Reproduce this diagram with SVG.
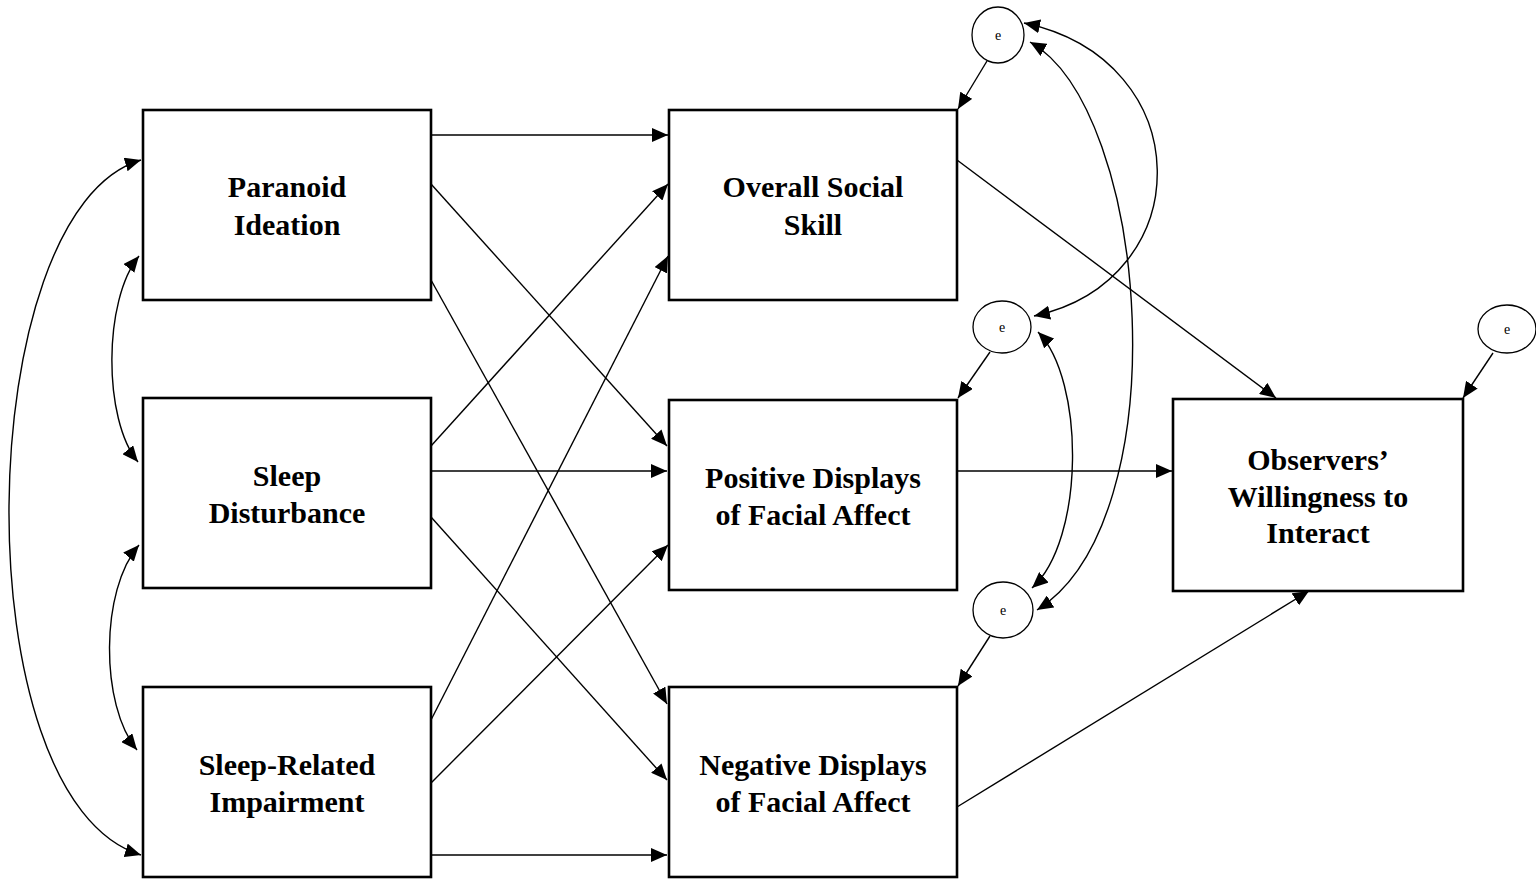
<svg xmlns="http://www.w3.org/2000/svg" width="1536" height="880" viewBox="0 0 1536 880">
<style>
.box{fill:#fff;stroke:#000;stroke-width:2.6}
.err{fill:#fff;stroke:#000;stroke-width:1.3}
.lbl{font-family:"Liberation Serif","Times New Roman",serif;font-weight:bold;font-size:30px;text-anchor:middle;fill:#000}
.e{font-family:"Liberation Serif","Times New Roman",serif;font-size:14px;text-anchor:middle;fill:#000}
.c{fill:none;stroke:#000;stroke-width:1.4}
.a{marker-end:url(#ah)}
.d{marker-start:url(#ah);marker-end:url(#ah)}
</style>
<defs>
<marker id="ah" markerUnits="userSpaceOnUse" markerWidth="17" markerHeight="14" refX="16" refY="7" orient="auto-start-reverse" viewBox="0 0 17 14">
<path d="M0,0 L16,7 L0,14 z" fill="#000"/>
</marker>
</defs>
<rect width="1536" height="880" fill="#fff"/>
<g id="connectors">
<line class="c a" x1="431" y1="135" x2="668" y2="135"/>
<line class="c a" x1="431" y1="184" x2="667" y2="446"/>
<line class="c a" x1="431" y1="280" x2="667" y2="704"/>
<line class="c a" x1="431" y1="446" x2="668" y2="184"/>
<line class="c a" x1="431" y1="471" x2="667" y2="471"/>
<line class="c a" x1="431" y1="517" x2="667" y2="780"/>
<line class="c a" x1="431" y1="720" x2="668" y2="256"/>
<line class="c a" x1="431" y1="783" x2="668" y2="545"/>
<line class="c a" x1="431" y1="855" x2="667" y2="855"/>
<line class="c a" x1="957" y1="160" x2="1276" y2="398"/>
<line class="c a" x1="957" y1="471" x2="1172" y2="471"/>
<line class="c a" x1="957" y1="807" x2="1309" y2="591"/>
<line class="c a" x1="987" y1="61" x2="958" y2="109"/>
<line class="c a" x1="990" y1="352" x2="958" y2="398"/>
<line class="c a" x1="990" y1="636" x2="958" y2="686"/>
<line class="c a" x1="1493" y1="353" x2="1463" y2="398"/>
<path class="c d" d="M141,160 C-30,210 -40,800 141,855"/>
<path class="c d" d="M139,256 C103,300 103,420 138,462"/>
<path class="c d" d="M139,545 C100,590 100,705 137,750"/>
<path class="c d" d="M1024,23 C1200,60 1200,280 1034,316"/>
<path class="c d" d="M1030,42 C1150,110 1180,520 1037,610"/>
<path class="c d" d="M1038,332 C1085,380 1085,540 1032,588"/>
</g>
<g id="paranoid"><rect class="box" x="143" y="110" width="288" height="190"/><text class="lbl" x="287" y="197">Paranoid</text><text class="lbl" x="287" y="235">Ideation</text></g>
<g id="sleep-disturbance"><rect class="box" x="143" y="398" width="288" height="190"/><text class="lbl" x="287" y="486">Sleep</text><text class="lbl" x="287" y="523">Disturbance</text></g>
<g id="sleep-related"><rect class="box" x="143" y="687" width="288" height="190"/><text class="lbl" x="287" y="775">Sleep-Related</text><text class="lbl" x="287" y="812">Impairment</text></g>
<g id="overall-social"><rect class="box" x="669" y="110" width="288" height="190"/><text class="lbl" x="813" y="197">Overall Social</text><text class="lbl" x="813" y="235">Skill</text></g>
<g id="positive"><rect class="box" x="669" y="400" width="288" height="190"/><text class="lbl" x="813" y="488">Positive Displays</text><text class="lbl" x="813" y="525">of Facial Affect</text></g>
<g id="negative"><rect class="box" x="669" y="687" width="288" height="190"/><text class="lbl" x="813" y="775">Negative Displays</text><text class="lbl" x="813" y="812">of Facial Affect</text></g>
<g id="observers"><rect class="box" x="1173" y="399" width="290" height="192"/><text class="lbl" x="1318" y="470">Observers’</text><text class="lbl" x="1318" y="507">Willingness to</text><text class="lbl" x="1318" y="543">Interact</text></g>
<g id="e1"><ellipse class="err" cx="998" cy="35" rx="26" ry="28"/><text class="e" x="998" y="40">e</text></g>
<g id="e2"><ellipse class="err" cx="1002" cy="327" rx="29" ry="26"/><text class="e" x="1002" y="332">e</text></g>
<g id="e3"><ellipse class="err" cx="1003" cy="610" rx="30" ry="28"/><text class="e" x="1003" y="615">e</text></g>
<g id="e4"><ellipse class="err" cx="1507" cy="329" rx="29" ry="24"/><text class="e" x="1507" y="334">e</text></g>
</svg>
